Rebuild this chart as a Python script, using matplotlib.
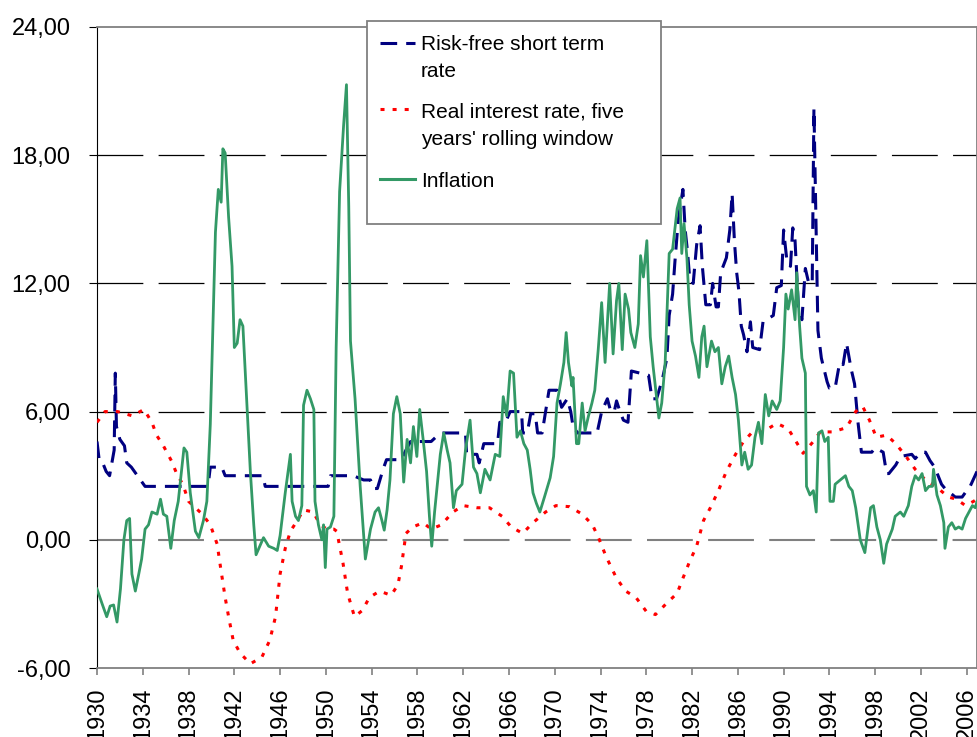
import matplotlib.pyplot as plt
from matplotlib.patches import Rectangle
from matplotlib.lines import Line2D

# --- data (year, percent) ---
rate_years = [1930.0, 1930.2, 1930.5, 1930.8, 1931.1, 1931.3, 1931.5, 1931.6, 1931.7, 1932.0,
              1932.4, 1932.6, 1933.0, 1933.4, 1933.8, 1934.2, 1939.7, 1939.9, 1940.9, 1941.2,
              1944.5, 1944.7, 1950.2, 1950.4, 1952.4, 1953.3, 1953.9, 1954.2, 1954.5, 1955.0,
              1955.3, 1956.6, 1957.0, 1957.4, 1958.3, 1959.2, 1959.6, 1960.1, 1962.2, 1962.3,
              1963.2, 1963.4, 1963.8, 1965.0, 1965.2, 1965.7, 1966.1, 1967.1, 1967.2, 1967.6,
              1967.9, 1968.3, 1968.5, 1968.9, 1969.2, 1969.5, 1970.2, 1970.6, 1971.1, 1971.4,
              1971.6, 1972.0, 1973.7, 1974.1, 1974.6, 1974.9, 1975.2, 1975.4, 1975.7, 1976.0,
              1976.4, 1976.7, 1978.2, 1978.5, 1978.9, 1979.4, 1979.8, 1980.0, 1980.3, 1980.5,
              1980.8, 1981.2, 1981.4, 1981.6, 1981.8, 1982.1, 1982.4, 1982.7, 1982.9, 1983.2,
              1983.6, 1983.8, 1984.1, 1984.3, 1984.5, 1985.0, 1985.3, 1985.5, 1985.7, 1985.9,
              1986.1, 1986.3, 1986.5, 1986.8, 1987.1, 1987.3, 1987.9, 1988.2, 1989.1, 1989.4,
              1989.8, 1990.0, 1990.3, 1990.6, 1990.8, 1991.0, 1991.3, 1991.6, 1991.9, 1992.2,
              1992.5, 1992.65, 1992.8, 1993.0, 1993.3, 1993.8, 1994.0, 1994.5, 1994.9, 1995.2,
              1995.5, 1995.9, 1996.2, 1996.5, 1996.8, 1997.7, 1998.0, 1998.7, 1999.0, 1999.2,
              1999.8, 2000.2, 2001.2, 2001.5, 2002.0, 2002.4, 2002.8, 2003.2, 2003.8, 2004.1,
              2005.0, 2005.6, 2006.0, 2006.3, 2006.9]
rate_values = [4.6, 3.7, 3.6, 3.2, 3.0, 3.6, 4.2, 7.8, 5.3, 4.7,
               4.4, 3.6, 3.4, 3.1, 2.8, 2.5, 2.5, 3.4, 3.4, 3.0,
               3.0, 2.5, 2.5, 3.0, 3.0, 2.8, 2.8, 2.4, 2.4, 3.3,
               3.75, 3.75, 4.2, 4.6, 4.6, 4.6, 4.8, 5.0, 5.0, 4.0,
               4.0, 3.6, 4.5, 4.5, 5.5, 5.5, 6.0, 6.0, 5.0, 5.0,
               5.9, 5.9, 5.0, 5.0, 6.0, 7.0, 7.0, 6.2, 6.6, 6.0,
               5.3, 5.0, 5.0, 6.0, 6.6, 6.0, 6.0, 6.5, 6.0, 5.6,
               5.5, 7.9, 7.7, 6.6, 6.6, 7.5, 8.5, 10.5, 11.5, 13.0,
               15.0, 16.4, 14.5, 13.5, 12.2, 12.0, 13.8, 14.7, 12.8, 11.0,
               11.0, 12.0, 10.9, 10.9, 12.5, 13.2, 14.5, 16.2, 14.0, 12.5,
               11.6, 10.0, 9.6, 8.8, 10.2, 9.0, 8.9, 10.2, 10.5, 11.8,
               11.9, 14.5, 13.0, 12.8, 14.6, 14.0, 10.8, 10.3, 12.7, 12.0,
               12.0, 20.2, 15.7, 9.8, 8.5, 7.4, 7.1, 7.1, 8.3, 8.2,
               9.2, 8.0, 7.3, 5.5, 4.1, 4.1, 4.3, 4.1, 3.1, 3.1,
               3.5, 3.9, 4.0, 3.8, 4.1, 4.1, 3.7, 3.4, 2.6, 2.4,
               2.0, 2.0, 2.3, 2.5, 3.2]

real_years = [1930.0, 1930.7, 1931.8, 1933.1, 1934.1, 1934.8, 1935.2, 1935.8, 1936.5, 1937.0,
              1937.5, 1938.0, 1938.4, 1939.2, 1939.9, 1940.5, 1940.8, 1941.2, 1941.5, 1941.9,
              1942.5, 1943.4, 1944.4, 1945.1, 1945.6, 1946.0, 1946.45, 1946.9, 1947.5, 1948.05,
              1948.9, 1949.5, 1950.1, 1950.7, 1950.95, 1951.5, 1951.9, 1952.5, 1953.2, 1953.8,
              1954.7, 1955.7, 1956.3, 1956.6, 1957.0, 1957.6, 1958.5, 1959.2, 1960.1, 1961.1,
              1962.0, 1963.2, 1964.3, 1965.4, 1966.2, 1967.2, 1968.1, 1969.2, 1970.1, 1971.3,
              1972.4, 1973.3, 1973.9, 1974.5, 1975.4, 1976.2, 1977.1, 1978.0, 1978.8, 1979.8,
              1980.7, 1981.2, 1981.8, 1982.4, 1983.0, 1983.6, 1984.3, 1985.0, 1985.8, 1986.5,
              1987.2, 1988.2, 1989.4, 1990.4, 1991.2, 1991.7, 1992.6, 1993.2, 1994.3, 1995.5,
              1996.3, 1996.9, 1997.5, 1998.1, 1999.0, 1999.8, 2000.7, 2001.5, 2002.4, 2003.3,
              2004.4, 2005.1, 2005.9, 2006.6, 2006.9]
real_values = [5.5, 6.0, 6.0, 5.8, 6.1, 5.5, 4.9, 4.4, 3.7, 3.05,
               2.6, 1.8, 1.6, 1.2, 0.7, -0.2, -1.3, -2.7, -3.6, -4.7,
               -5.3, -5.8, -5.5, -4.7, -3.6, -1.6, -0.4, 0.4, 0.9, 1.4,
               1.3, 0.7, 0.5, 0.5, 0.4, -1.1, -2.5, -3.6, -3.3, -2.7,
               -2.4, -2.6, -2.1, -1.25, 0.3, 0.6, 0.8, 0.5, 0.7, 1.3,
               1.6, 1.5, 1.5, 1.1, 0.6, 0.3, 0.8, 1.3, 1.6, 1.55,
               1.2, 0.7, 0.0, -0.8, -1.8, -2.4, -2.7, -3.35, -3.5, -2.96,
               -2.5, -1.8, -1.0, -0.3, 0.9, 1.5, 2.3, 3.2, 4.0, 4.6,
               5.0, 5.05, 5.45, 5.2, 4.5, 4.05, 4.6, 5.05, 5.05, 5.25,
               6.0, 6.25, 5.6, 4.8, 4.9, 4.5, 3.9, 3.3, 2.8, 2.5,
               2.0, 1.9, 1.6, 1.8, 1.9]

infl_years = [1930.0, 1930.45, 1930.85, 1931.15, 1931.45, 1931.75, 1932.05, 1932.35, 1932.6, 1932.85,
              1933.05, 1933.35, 1933.65, 1933.9, 1934.2, 1934.5, 1934.8, 1935.25, 1935.55, 1935.8,
              1936.1, 1936.45, 1936.75, 1937.1, 1937.6, 1937.85, 1938.15, 1938.6, 1938.9, 1939.3,
              1939.6, 1939.9, 1940.15, 1940.35, 1940.6, 1940.85, 1941.0, 1941.2, 1941.5, 1941.8,
              1942.0, 1942.25, 1942.5, 1942.75, 1943.1, 1943.4, 1943.7, 1943.9, 1944.3, 1944.55,
              1945.0, 1945.45, 1945.75, 1946.0, 1946.45, 1946.9, 1947.05, 1947.35, 1947.6, 1947.9,
              1948.05, 1948.35, 1948.65, 1948.95, 1949.05, 1949.35, 1949.65, 1949.8, 1949.95, 1950.1,
              1950.4, 1950.7, 1950.9, 1951.2, 1951.55, 1951.8, 1952.0, 1952.15, 1952.55, 1953.0,
              1953.45, 1953.9, 1954.3, 1954.6, 1954.9, 1955.1, 1955.35, 1955.6, 1955.9, 1956.2,
              1956.5, 1956.8, 1957.1, 1957.4, 1957.65, 1957.95, 1958.2, 1958.5, 1958.8, 1959.05,
              1959.25, 1959.5, 1960.0, 1960.3, 1960.6, 1960.85, 1961.15, 1961.4, 1961.9, 1962.2,
              1962.6, 1962.9, 1963.2, 1963.5, 1963.9, 1964.35, 1964.8, 1965.2, 1965.5, 1965.8,
              1966.1, 1966.4, 1966.7, 1967.0, 1967.3, 1967.6, 1967.85, 1968.1, 1968.4, 1968.7,
              1969.1, 1969.6, 1969.9, 1970.2, 1970.5, 1970.8, 1971.0, 1971.2, 1971.5, 1971.6,
              1971.9, 1972.1, 1972.4, 1972.65, 1972.95, 1973.25, 1973.5, 1973.8, 1974.1, 1974.4,
              1974.8, 1975.1, 1975.4, 1975.6, 1975.9, 1976.15, 1976.45, 1976.65, 1977.0, 1977.3,
              1977.5, 1977.75, 1978.05, 1978.35, 1978.6, 1979.1, 1979.35, 1979.65, 1980.0, 1980.3,
              1980.7, 1980.95, 1981.1, 1981.3, 1981.55, 1981.75, 1982.0, 1982.3, 1982.6, 1982.85,
              1983.05, 1983.3, 1983.7, 1984.0, 1984.3, 1984.6, 1984.9, 1985.2, 1985.5, 1985.8,
              1986.05, 1986.35, 1986.6, 1986.9, 1987.2, 1987.5, 1987.8, 1988.1, 1988.4, 1988.7,
              1989.0, 1989.4, 1989.7, 1990.0, 1990.2, 1990.4, 1990.7, 1991.0, 1991.15, 1991.4,
              1991.6, 1991.9, 1992.0, 1992.3, 1992.6, 1992.85, 1993.05, 1993.35, 1993.6, 1993.9,
              1994.05, 1994.35, 1994.5, 1994.95, 1995.4, 1995.7, 1996.0, 1996.3, 1996.7, 1997.1,
              1997.6, 1997.85, 1998.15, 1998.45, 1998.75, 1999.0, 1999.5, 1999.75, 2000.2, 2000.5,
              2000.9, 2001.2, 2001.5, 2001.8, 2002.1, 2002.4, 2002.7, 2003.0, 2003.1, 2003.4,
              2003.7, 2004.0, 2004.1, 2004.4, 2004.7, 2005.0, 2005.3, 2005.6, 2005.9, 2006.2,
              2006.5, 2006.75, 2006.9]
infl_values = [-2.3, -3.0, -3.6, -3.1, -3.05, -3.85, -2.3, 0.0, 0.9, 1.0,
               -1.6, -2.4, -1.6, -0.9, 0.5, 0.7, 1.3, 1.2, 1.9, 1.2,
               1.1, -0.4, 0.9, 1.8, 4.3, 4.1, 2.2, 0.4, 0.1, 0.9,
               1.8, 5.4, 10.4, 14.4, 16.4, 15.8, 18.3, 18.1, 15.1, 12.8,
               9.0, 9.2, 10.3, 10.0, 6.3, 3.2, 0.7, -0.7, -0.2, 0.1,
               -0.3, -0.4, -0.5, 0.2, 2.2, 4.0, 1.8, 1.1, 0.9, 1.6,
               6.3, 7.0, 6.6, 6.1, 1.8, 0.7, 0.0, 0.7, -1.3, 0.5,
               0.6, 1.1, 9.0, 16.3, 19.4, 21.3, 15.6, 9.3, 6.6, 2.5,
               -0.9, 0.5, 1.3, 1.5, 0.9, 0.45, 1.4, 2.8, 5.9, 6.7,
               5.9, 2.7, 4.7, 3.6, 5.3, 3.9, 6.1, 4.7, 3.2, 1.1,
               -0.3, 1.3, 4.0, 5.0, 4.2, 3.6, 1.5, 2.3, 2.6, 4.2,
               5.6, 3.4, 3.1, 2.2, 3.3, 2.8, 4.0, 3.9, 6.7, 5.8,
               7.9, 7.8, 4.8, 5.1, 4.5, 4.2, 3.3, 2.2, 1.7, 1.3,
               2.0, 2.9, 3.9, 6.4, 7.3, 8.3, 9.7, 8.3, 7.2, 7.6,
               4.5, 4.5, 6.4, 5.1, 5.8, 6.4, 7.0, 8.9, 11.1, 8.3,
               12.0, 8.7, 11.2, 12.0, 8.9, 11.5, 10.8, 9.7, 9.0, 10.1,
               13.3, 12.3, 14.0, 9.5, 8.1, 5.7, 6.4, 8.3, 13.4, 13.6,
               15.5, 16.0, 13.4, 14.8, 13.2, 11.0, 9.3, 8.6, 7.6, 9.5,
               10.0, 8.1, 9.3, 8.8, 9.0, 7.3, 8.1, 8.6, 7.6, 6.8,
               5.6, 3.5, 4.1, 3.3, 3.5, 4.8, 5.5, 4.5, 6.8, 5.8,
               6.5, 6.1, 6.5, 9.0, 11.5, 10.8, 11.7, 10.3, 12.5, 10.0,
               8.5, 7.8, 2.5, 2.1, 2.3, 1.3, 5.0, 5.1, 4.6, 4.8,
               1.8, 1.8, 2.6, 2.8, 3.0, 2.5, 2.3, 1.5, 0.0, -0.6,
               1.5, 1.6, 0.6, 0.0, -1.1, -0.2, 0.5, 1.1, 1.3, 1.1,
               1.6, 2.5, 3.0, 2.8, 3.1, 2.3, 2.5, 2.5, 3.3, 2.1,
               1.6, 0.8, -0.4, 0.6, 0.8, 0.5, 0.6, 0.5, 1.0, 1.3,
               1.6, 1.5, 1.8]

x_ticks = list(range(1930, 2007, 4))
y_ticks = [-6, 0, 6, 12, 18, 24]
y_ticklabels = ['-6,00', '0,00', '6,00', '12,00', '18,00', '24,00']

labels = ['Risk-free short term\nrate', "Real interest rate, five\nyears' rolling window", 'Inflation']

plt.rcParams['font.family'] = ['Liberation Sans', 'DejaVu Sans']
plt.rcParams['lines.scale_dashes'] = False

W, H = 978, 737
fig = plt.figure(figsize=(W / 100, H / 100), dpi=100)
ax = fig.add_axes([97 / W, 1 - 668 / H, 880 / W, 641 / H])

navy, red, green = '#000080', '#FF0000', '#339966'
navy_ls = (0, (12, 6.5))
red_ls = (0, (2.9, 5.8))

# grid lines (Excel style long dashes)
for v in [6, 12, 18]:
    ax.axhline(v, color='black', lw=0.9, ls=(0, (33, 11)), zorder=1)
ax.axhline(0, color='#808080', lw=1.5, ls=(0, (33, 11)), zorder=1)

ax.plot(rate_years, rate_values, color=navy, lw=2.2, ls=navy_ls, zorder=3)
ax.plot(real_years, real_values, color=red, lw=2.2, ls=red_ls, zorder=3)
ax.plot(infl_years, infl_values, color=green, lw=2.0, zorder=4)

ax.set_xlim(1930, 2006.9)
ax.set_ylim(-6, 24)
ax.set_xticks(x_ticks)
ax.set_xticklabels([str(y) for y in x_ticks], rotation=90)
ax.set_yticks(y_ticks)
ax.set_yticklabels(y_ticklabels)
ax.tick_params(axis='x', length=5, width=1.2, color='#808080', pad=9, labelsize=17)
ax.tick_params(axis='y', length=6, width=0.8, color='black', pad=13, labelsize=17)

ax.spines['left'].set_color('black')
ax.spines['left'].set_linewidth(0.8)
for s in ['top', 'right', 'bottom']:
    ax.spines[s].set_color('#808080')
    ax.spines[s].set_linewidth(1.3)


# hand-made legend box, Excel style
def fx(px):
    return px / W


def fy(py):
    return 1 - py / H


fig.add_artist(Rectangle((fx(367), fy(224)), 294 / W, 203 / H, transform=fig.transFigure,
                         facecolor='white', edgecolor='#808080', lw=1.3, zorder=5))
for ypx, col, ls in [(43, navy, navy_ls), (109, red, red_ls), (179, green, '-')]:
    fig.add_artist(Line2D([fx(380), fx(415)], [fy(ypx)] * 2, transform=fig.transFigure,
                          color=col, lw=2.2, ls=ls, zorder=6))
baselines = [[50, 77], [118, 145], [187]]
for lab, bl in zip(labels, baselines):
    for line, ypx in zip(lab.split('\n'), bl):
        fig.text(fx(421), fy(ypx), line, fontsize=15, va='baseline', ha='left', zorder=7)

fig.savefig('out.png', dpi=100)
